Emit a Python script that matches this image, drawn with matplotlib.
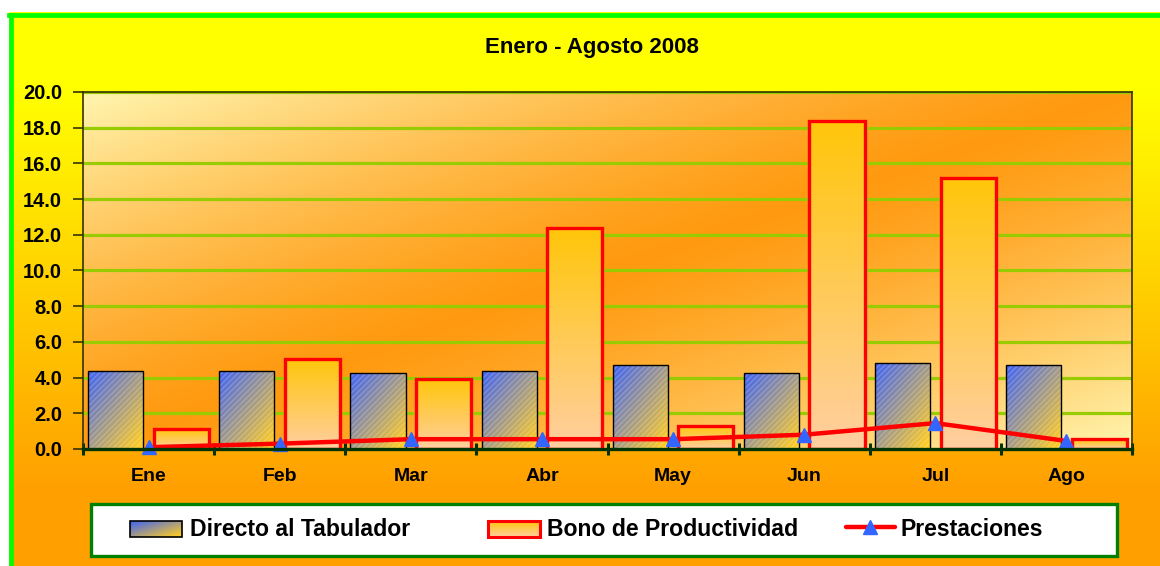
import numpy as np
import matplotlib
matplotlib.use("Agg")
import matplotlib.pyplot as plt
from matplotlib.patches import Rectangle
from matplotlib.lines import Line2D

plt.rcParams["font.family"] = ["Liberation Sans", "DejaVu Sans"]
plt.rcParams["font.weight"] = "bold"

months     = ["Ene", "Feb", "Mar", "Abr", "May", "Jun", "Jul", "Ago"]
directo    = [4.35, 4.35, 4.25, 4.35, 4.7, 4.25, 4.8, 4.7]
bono       = [1.1, 5.05, 3.9, 12.4, 1.3, 18.4, 15.2, 0.55]
prestacion = [0.1, 0.3, 0.55, 0.55, 0.55, 0.8, 1.45, 0.45]
series     = ["Directo al Tabulador", "Bono de Productividad", "Prestaciones"]
title      = "Enero - Agosto 2008"

W, H = 1160, 566
fig = plt.figure(figsize=(W / 100, H / 100), dpi=100)
fig.patch.set_facecolor("white")


def rgb(h):
    return np.array(matplotlib.colors.to_rgb(h))


def blend(c1, c2, t):
    t = np.clip(t, 0, 1)[..., None]
    return rgb(c1) * (1 - t) + rgb(c2) * t


# outer chart area: vertical yellow (top) -> orange (bottom)
bg = fig.add_axes([9 / W, 0, 1 - 9 / W, (H - 12) / H], zorder=-10)
v = np.linspace(0, 1, 300)[:, None] * np.ones((1, 10))
bg.imshow(blend("#FFFF00", "#FFA000", (v - 0.14) / 0.72), aspect="auto",
          extent=[0, 1, 0, 1], origin="upper", transform=bg.transAxes)
bg.set_axis_off()
fig.add_artist(Line2D([11 / W, 11 / W], [0, (H - 14.5) / H], color="#00FF00", lw=3.4))
fig.add_artist(Line2D([9 / W, 1], [(H - 14.5) / H] * 2, color="#00FF00", lw=3.4))

fig.text(592 / W, 1 - 47 / H, title, ha="center", va="center", fontsize=16, fontweight="bold")

# plot area
ax = fig.add_axes([83 / W, (H - 449) / H, (1132 - 83) / W, (449 - 92) / H])
ax.set_facecolor("none")
yy, xx = np.mgrid[0:1:200j, 0:1:400j]
s = np.abs((xx + yy) / 2 - 0.5) * 2
ax.imshow(blend("#FF9A10", "#FFF6B0", s ** 1.3), aspect="auto", extent=[0, 1, 0, 1],
          origin="upper", transform=ax.transAxes, zorder=0)

ax.set_ylim(0, 20)
ax.set_yticks(np.arange(0, 20.1, 2))
ax.set_yticklabels([f"{t:.1f}" for t in np.arange(0, 20.1, 2)])
for t in np.arange(2, 20.1, 2):
    ax.axhline(t, color="#99CC00", lw=2.3, zorder=1)

x = np.arange(len(months))
bw = 0.42
off = 0.25

gy, gx = np.mgrid[0:1:60j, 0:1:30j]
grad_dir = blend("#3F63F5", "#FFCC22", (gx + gy) / 2 * 1.05)
grad_bono = blend("#FFC60A", "#FFCFA0", np.mgrid[0:1:80j, 0:1:2j][0])

bars1 = ax.bar(x - off, directo, bw, facecolor="none", edgecolor="black", lw=1.0, zorder=4)
ax.bar(x - off, directo, bw, facecolor="none", edgecolor=(1, 1, 1, 0.2), hatch="//////",
       lw=0, zorder=3.5)
bars2 = ax.bar(x + off, bono, bw, facecolor="none", edgecolor="#FF0000", lw=2.4, zorder=4)
for b, g in [(b, grad_dir) for b in bars1] + [(b, grad_bono) for b in bars2]:
    x0, y0, w, h = b.get_x(), b.get_y(), b.get_width(), b.get_height()
    im = ax.imshow(g, aspect="auto", extent=[x0, x0 + w, y0, y0 + h], origin="upper", zorder=3)
    im.set_clip_path(b)

ax.plot(x, prestacion, color="#FF0000", lw=3.2, marker="^", markersize=10,
        markerfacecolor="#3366FF", markeredgecolor="#3366FF", zorder=5, clip_on=False)

ax.set_xlim(-0.5, len(months) - 0.5)
ax.set_ylim(0, 20)
ax.set_xticks(np.arange(-0.5, len(months), 1))
ax.set_xticklabels([])
ax.set_xticks(x, minor=True)
ax.set_xticklabels(months, minor=True, fontsize=14, fontweight="bold")
ax.tick_params(axis="x", which="major", direction="inout", length=9, width=2.2, color="#003300")
ax.tick_params(axis="x", which="minor", length=0, pad=14)
ax.tick_params(axis="y", direction="out", length=7, width=1.2, color="#333300",
               labelsize=14.5, pad=8)
for lab in ax.get_yticklabels():
    lab.set_fontweight("bold")
for sp in ["top", "right", "left"]:
    ax.spines[sp].set_color("#333300")
    ax.spines[sp].set_linewidth(1.2)
ax.spines["bottom"].set_color("#003300")
ax.spines["bottom"].set_linewidth(2.4)
ax.spines["bottom"].set_zorder(6)

# legend box
lg = fig.add_axes([0, 0, 1, 1], zorder=10)
lg.set_xlim(0, W)
lg.set_ylim(H, 0)
lg.set_axis_off()
lg.add_patch(Rectangle((91, 504), 1026, 52, facecolor="white", edgecolor="#008000", lw=2.4))
p1 = Rectangle((130, 521), 52, 16, facecolor="none", edgecolor="black", lw=1.2, zorder=3)
lg.add_patch(p1)
im = lg.imshow(grad_dir, aspect="auto", extent=[130, 182, 537, 521], origin="upper", zorder=2)
im.set_clip_path(p1)
p2 = Rectangle((488, 521), 52, 16, facecolor="none", edgecolor="#FF0000", lw=2.2, zorder=3)
lg.add_patch(p2)
im = lg.imshow(grad_bono, aspect="auto", extent=[488, 540, 537, 521], origin="upper", zorder=2)
im.set_clip_path(p2)
lg.plot([846, 895], [527, 527], color="#FF0000", lw=3.2, solid_capstyle="round")
lg.plot([870], [527], marker="^", markersize=10, color="#3366FF")
lg.set_xlim(0, W)
lg.set_ylim(H, 0)
for tx, label in zip([190, 547, 900], series):
    lg.text(tx, 529, label, ha="left", va="center", fontsize=16.6, fontweight="bold")

fig.savefig("out.png", dpi=100)
